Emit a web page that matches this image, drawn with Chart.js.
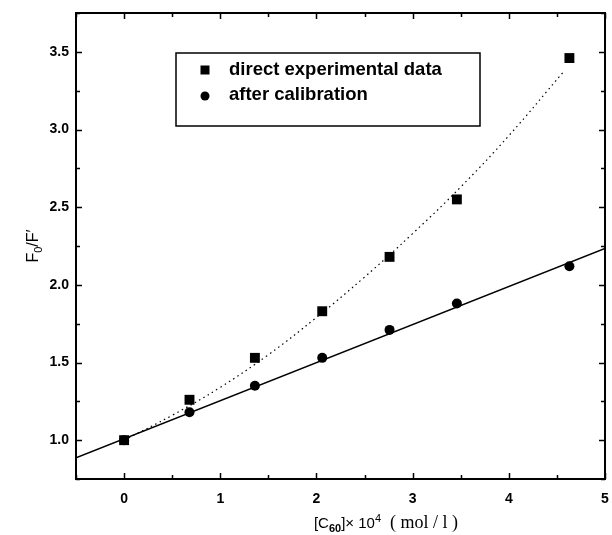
<!DOCTYPE html>
<html>
<head>
<meta charset="utf-8">
<script src="https://cdn.jsdelivr.net/npm/chart.js@4.4.1/dist/chart.umd.min.js"></script>
<style>
  html, body { margin: 0; padding: 0; background: #fff; }
  #wrap { width: 612px; height: 535px; position: relative; }
</style>
</head>
<body>
<div id="wrap"><canvas id="grafico" width="612" height="535"></canvas></div>
<script>
// valores
const concentracao = [0, 0.68, 1.36, 2.06, 2.76, 3.46, 4.63];
const dadosDiretos = [1.00, 1.26, 1.53, 1.83, 2.18, 2.55, 3.46];
const dadosCalibrados = [1.00, 1.18, 1.35, 1.53, 1.71, 1.88, 2.12];

// reta ajustada (pontas na borda do grafico)
const retaX = [-0.5, 5];
const retaY = [0.887, 2.235];

// curva pontilhada (lida em alguns pontos)
const curvaX = [0, 0.5, 1, 1.5, 2, 2.5, 3, 3.5, 4, 4.58];
const curvaY = [1.00, 1.16, 1.34, 1.55, 1.79, 2.05, 2.33, 2.63, 2.96, 3.38];

const xTicks = [0, 1, 2, 3, 4, 5];
const yTicks = [1.0, 1.5, 2.0, 2.5, 3.0, 3.5];
const yTickLabels = ["1.0", "1.5", "2.0", "2.5", "3.0", "3.5"];

const legendaTextos = ["direct experimental data", "after calibration"];

const pares = (xs, ys) => xs.map((x, i) => ({ x, y: ys[i] }));

// moldura, ticks internos, legenda e titulos dos eixos
const extras = {
    id: "extras",
    afterDraw(chart) {
        const { ctx, chartArea: a, scales } = chart;
        const sx = scales.x, sy = scales.y;
        ctx.save();
        ctx.strokeStyle = "#000";
        ctx.lineWidth = 2;
        ctx.strokeRect(a.left, a.top, a.right - a.left, a.bottom - a.top);

        ctx.lineWidth = 1.5;
        // ticks x (maiores e menores)
        for (let v = -0.5; v <= 5.001; v += 0.5) {
            const px = Math.round(sx.getPixelForValue(v)) + 0.5;
            const len = Math.abs(v - Math.round(v)) < 0.01 ? 6 : 4;
            ctx.beginPath();
            ctx.moveTo(px, a.bottom); ctx.lineTo(px, a.bottom - len);
            ctx.moveTo(px, a.top); ctx.lineTo(px, a.top + len);
            ctx.stroke();
        }
        // ticks y
        for (let v = 0.75; v <= 3.751; v += 0.25) {
            const py = Math.round(sy.getPixelForValue(v)) + 0.5;
            const len = Math.abs(v * 2 - Math.round(v * 2)) < 0.01 ? 6 : 4;
            ctx.beginPath();
            ctx.moveTo(a.left, py); ctx.lineTo(a.left + len, py);
            ctx.moveTo(a.right, py); ctx.lineTo(a.right - len, py);
            ctx.stroke();
        }

        // legenda
        ctx.lineWidth = 1.5;
        ctx.strokeRect(176, 53, 304, 73);
        ctx.fillStyle = "#000";
        ctx.fillRect(200.5, 65.5, 9, 9);
        ctx.beginPath();
        ctx.arc(205, 96, 4.5, 0, Math.PI * 2);
        ctx.fill();
        ctx.font = "bold 18.5px 'Liberation Sans', Arial, sans-serif";
        ctx.textBaseline = "middle";
        ctx.textAlign = "left";
        ctx.fillText(legendaTextos[0], 229, 70);
        ctx.fillText(legendaTextos[1], 229, 95);

        // titulo eixo x: [C60]x 10^4 ( mol / l )
        const sans = "'Liberation Sans', Arial, sans-serif";
        const serif = "'Liberation Serif', 'Times New Roman', serif";
        const partes = [
            { t: "[C", f: "15px " + sans, dy: 0 },
            { t: "60", f: "bold 11px " + sans, dy: 4 },
            { t: "]\u00d7 10", f: "15px " + sans, dy: 0 },
            { t: "4", f: "11px " + sans, dy: -6 },
            { t: "  ( mol / l )", f: "18px " + serif, dy: 0 }
        ];
        let total = 0;
        partes.forEach(p => { ctx.font = p.f; p.w = ctx.measureText(p.t).width; total += p.w; });
        let cx = 386 - total / 2;
        ctx.textBaseline = "alphabetic";
        partes.forEach(p => {
            ctx.font = p.f;
            ctx.fillText(p.t, cx, 528 + p.dy);
            cx += p.w;
        });

        // titulo eixo y: F0/F'
        ctx.translate(33, 246);
        ctx.rotate(-Math.PI / 2);
        const partesY = [
            { t: "F", f: "16px " + sans, dy: 0 },
            { t: "0", f: "11px " + sans, dy: 4 },
            { t: "/F\u2032", f: "16px " + sans, dy: 0 }
        ];
        total = 0;
        partesY.forEach(p => { ctx.font = p.f; p.w = ctx.measureText(p.t).width; total += p.w; });
        cx = -total / 2;
        partesY.forEach(p => {
            ctx.font = p.f;
            ctx.fillText(p.t, cx, 5 + p.dy);
            cx += p.w;
        });
        ctx.restore();
    }
};

const fonteTicks = { family: "'Liberation Sans', Arial, sans-serif", size: 14, weight: "bold" };

new Chart(document.getElementById("grafico"), {
    type: "scatter",
    data: {
        datasets: [
            {
                label: "curva",
                data: pares(curvaX, curvaY),
                showLine: true,
                borderColor: "#000",
                borderWidth: 1.2,
                borderDash: [1.5, 3.5],
                pointRadius: 0,
                tension: 0.4
            },
            {
                label: "reta",
                data: pares(retaX, retaY),
                showLine: true,
                borderColor: "#000",
                borderWidth: 1.5,
                pointRadius: 0
            },
            {
                label: legendaTextos[0],
                data: pares(concentracao, dadosDiretos),
                pointStyle: "rect",
                pointRadius: 7,
                backgroundColor: "#000",
                borderColor: "#000",
                borderWidth: 0
            },
            {
                label: legendaTextos[1],
                data: pares(concentracao, dadosCalibrados),
                pointStyle: "circle",
                pointRadius: 5,
                backgroundColor: "#000",
                borderColor: "#000",
                borderWidth: 0
            }
        ]
    },
    options: {
        responsive: false,
        animation: false,
        layout: { padding: { top: 13, right: 4, left: 0, bottom: 0 } },
        plugins: { legend: { display: false }, tooltip: { enabled: false } },
        scales: {
            x: {
                type: "linear",
                min: -0.5,
                max: 5,
                afterBuildTicks: s => { s.ticks = xTicks.map(v => ({ value: v })); },
                afterFit: s => { s.height = 56; s.paddingRight = 0; s.paddingLeft = 0; },
                grid: { display: false, drawTicks: false },
                border: { display: false },
                ticks: { color: "#000", font: fonteTicks, padding: 12, maxRotation: 0 }
            },
            y: {
                type: "linear",
                min: 0.75,
                max: 3.75,
                afterBuildTicks: s => { s.ticks = yTicks.map(v => ({ value: v })); },
                afterFit: s => { s.width = 76; s.paddingTop = 0; s.paddingBottom = 0; },
                grid: { display: false, drawTicks: false },
                border: { display: false },
                ticks: {
                    color: "#000",
                    font: fonteTicks,
                    padding: 7,
                    callback: v => yTickLabels[yTicks.indexOf(v)] ?? ""
                }
            }
        }
    },
    plugins: [extras]
});
</script>
</body>
</html>
